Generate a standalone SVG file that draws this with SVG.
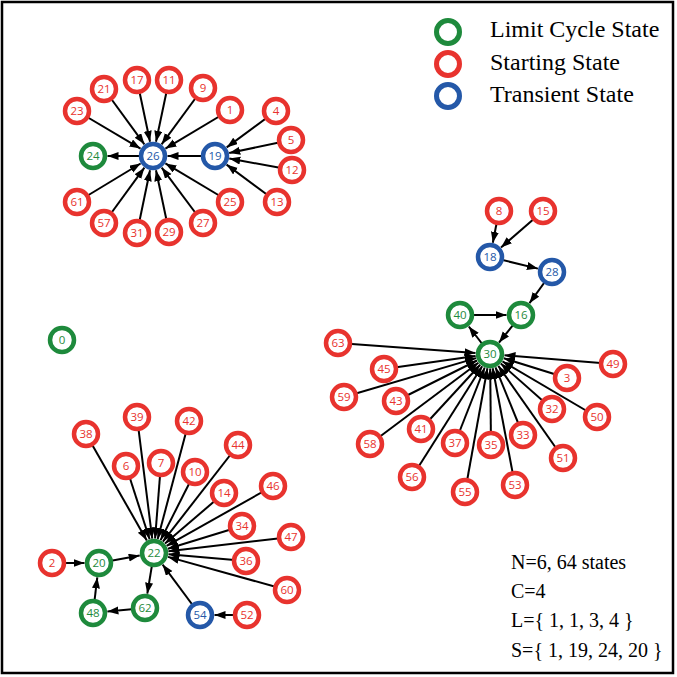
<svg xmlns="http://www.w3.org/2000/svg" width="677" height="677" viewBox="0 0 677 677">
<style>
.n circle{fill:#fff;stroke-width:4.5}
.n text{font-family:"Open Sans","Noto Sans",sans-serif;font-size:11.5px;text-anchor:middle}
.r circle{stroke:#e8332e}.r text{fill:#e8332e}
.g circle{stroke:#1e8a3c}.g text{fill:#1e8a3c}
.b circle{stroke:#2458a8}.b text{fill:#2458a8}
#edges line{stroke:#000;stroke-width:2;marker-end:url(#ah)}
.t{font-family:"Liberation Serif","Times New Roman",serif;fill:#000}
</style>
<defs>
<marker id="ah" markerUnits="userSpaceOnUse" markerWidth="12" markerHeight="9" refX="11" refY="4" orient="auto">
<path d="M0,0 L11,4 L0,8 z" fill="#000"/>
</marker>
</defs>
<rect x="2" y="2" width="671" height="671" fill="#fff" stroke="#000" stroke-width="2.5"/>
<g id="edges">
<line x1="77" y1="111" x2="140.5" y2="148.6"/>
<line x1="104" y1="89" x2="144.4" y2="144.3"/>
<line x1="137" y1="80" x2="150" y2="141.8"/>
<line x1="169" y1="80" x2="156" y2="141.8"/>
<line x1="203" y1="88" x2="161.6" y2="144.3"/>
<line x1="230" y1="110" x2="165.4" y2="148.6"/>
<line x1="77" y1="202" x2="140.6" y2="163.5"/>
<line x1="104" y1="223" x2="144.4" y2="167.7"/>
<line x1="137" y1="233" x2="150" y2="170.2"/>
<line x1="169" y1="232" x2="156" y2="170.2"/>
<line x1="203" y1="223" x2="161.7" y2="167.6"/>
<line x1="230" y1="202" x2="165.4" y2="163.4"/>
<line x1="215" y1="156" x2="167.5" y2="156"/>
<line x1="153" y1="156" x2="107.5" y2="156"/>
<line x1="276" y1="111" x2="226.7" y2="147.4"/>
<line x1="291" y1="140" x2="229.2" y2="153"/>
<line x1="292" y1="170" x2="229.3" y2="158.6"/>
<line x1="277" y1="202" x2="226.6" y2="164.6"/>
<line x1="499" y1="211" x2="492.8" y2="242.8"/>
<line x1="543" y1="211" x2="501" y2="247.5"/>
<line x1="490" y1="257" x2="537.9" y2="268.6"/>
<line x1="552" y1="272" x2="529.5" y2="303.2"/>
<line x1="460" y1="315" x2="506.5" y2="315"/>
<line x1="490" y1="354" x2="468.8" y2="326.5"/>
<line x1="521" y1="315" x2="499" y2="342.6"/>
<line x1="338" y1="343" x2="475.5" y2="353"/>
<line x1="384" y1="369" x2="475.6" y2="356"/>
<line x1="344" y1="397" x2="476.1" y2="358.1"/>
<line x1="396" y1="401" x2="477" y2="360.5"/>
<line x1="421" y1="429" x2="480.2" y2="364.7"/>
<line x1="370" y1="444" x2="478.4" y2="362.7"/>
<line x1="412" y1="477" x2="482.2" y2="366.3"/>
<line x1="455" y1="443" x2="484.7" y2="367.5"/>
<line x1="465" y1="492" x2="487.4" y2="368.3"/>
<line x1="491" y1="445" x2="490.2" y2="368.5"/>
<line x1="515" y1="485" x2="492.7" y2="368.2"/>
<line x1="523" y1="435" x2="495.5" y2="367.4"/>
<line x1="563" y1="458" x2="498.3" y2="365.9"/>
<line x1="552" y1="409" x2="500.8" y2="363.6"/>
<line x1="597" y1="417" x2="502.5" y2="361.4"/>
<line x1="567" y1="378" x2="503.8" y2="358.3"/>
<line x1="613" y1="364" x2="504.5" y2="355.2"/>
<line x1="52" y1="563" x2="84.5" y2="563"/>
<line x1="99" y1="563" x2="139.7" y2="555.6"/>
<line x1="154" y1="553" x2="147.3" y2="593.7"/>
<line x1="145" y1="608" x2="107.4" y2="611.6"/>
<line x1="93" y1="613" x2="97.3" y2="577.4"/>
<line x1="247" y1="615" x2="214.5" y2="615"/>
<line x1="200" y1="615" x2="162.6" y2="564.6"/>
<line x1="86" y1="434" x2="146.8" y2="540.4"/>
<line x1="137" y1="417" x2="152.2" y2="538.6"/>
<line x1="189" y1="421" x2="157.7" y2="539"/>
<line x1="238" y1="445" x2="162.9" y2="541.6"/>
<line x1="126" y1="466" x2="149.6" y2="539.2"/>
<line x1="161" y1="463" x2="155.1" y2="538.5"/>
<line x1="195" y1="472" x2="160.6" y2="540.1"/>
<line x1="224" y1="493" x2="165" y2="543.6"/>
<line x1="273" y1="486" x2="166.6" y2="545.9"/>
<line x1="242" y1="526" x2="167.9" y2="548.7"/>
<line x1="291" y1="537" x2="168.4" y2="551.3"/>
<line x1="246" y1="561" x2="168.5" y2="554.3"/>
<line x1="287" y1="590" x2="168" y2="556.9"/>
</g>
<g id="nodes">
<g id="n26" class="n b"><circle cx="153" cy="156" r="12"/><text x="153" y="160">26</text></g>
<g id="n24" class="n g"><circle cx="93" cy="156" r="12"/><text x="93" y="160">24</text></g>
<g id="n19" class="n b"><circle cx="215" cy="156" r="12"/><text x="215" y="160">19</text></g>
<g id="n23" class="n r"><circle cx="77" cy="111" r="12"/><text x="77" y="115">23</text></g>
<g id="n21" class="n r"><circle cx="104" cy="89" r="12"/><text x="104" y="93">21</text></g>
<g id="n17" class="n r"><circle cx="137" cy="80" r="12"/><text x="137" y="84">17</text></g>
<g id="n11" class="n r"><circle cx="169" cy="80" r="12"/><text x="169" y="84">11</text></g>
<g id="n9" class="n r"><circle cx="203" cy="88" r="12"/><text x="203" y="92">9</text></g>
<g id="n1" class="n r"><circle cx="230" cy="110" r="12"/><text x="230" y="114">1</text></g>
<g id="n4" class="n r"><circle cx="276" cy="111" r="12"/><text x="276" y="115">4</text></g>
<g id="n5" class="n r"><circle cx="291" cy="140" r="12"/><text x="291" y="144">5</text></g>
<g id="n12" class="n r"><circle cx="292" cy="170" r="12"/><text x="292" y="174">12</text></g>
<g id="n13" class="n r"><circle cx="277" cy="202" r="12"/><text x="277" y="206">13</text></g>
<g id="n61" class="n r"><circle cx="77" cy="202" r="12"/><text x="77" y="206">61</text></g>
<g id="n57" class="n r"><circle cx="104" cy="223" r="12"/><text x="104" y="227">57</text></g>
<g id="n31" class="n r"><circle cx="137" cy="233" r="12"/><text x="137" y="237">31</text></g>
<g id="n29" class="n r"><circle cx="169" cy="232" r="12"/><text x="169" y="236">29</text></g>
<g id="n27" class="n r"><circle cx="203" cy="223" r="12"/><text x="203" y="227">27</text></g>
<g id="n25" class="n r"><circle cx="230" cy="202" r="12"/><text x="230" y="206">25</text></g>
<g id="n0" class="n g"><circle cx="62" cy="340" r="12"/><text x="62" y="344">0</text></g>
<g id="n8" class="n r"><circle cx="499" cy="211" r="12"/><text x="499" y="215">8</text></g>
<g id="n15" class="n r"><circle cx="543" cy="211" r="12"/><text x="543" y="215">15</text></g>
<g id="n18" class="n b"><circle cx="490" cy="257" r="12"/><text x="490" y="261">18</text></g>
<g id="n28" class="n b"><circle cx="552" cy="272" r="12"/><text x="552" y="276">28</text></g>
<g id="n40" class="n g"><circle cx="460" cy="315" r="12"/><text x="460" y="319">40</text></g>
<g id="n16" class="n g"><circle cx="521" cy="315" r="12"/><text x="521" y="319">16</text></g>
<g id="n30" class="n g"><circle cx="490" cy="354" r="12"/><text x="490" y="358">30</text></g>
<g id="n63" class="n r"><circle cx="338" cy="343" r="12"/><text x="338" y="347">63</text></g>
<g id="n45" class="n r"><circle cx="384" cy="369" r="12"/><text x="384" y="373">45</text></g>
<g id="n59" class="n r"><circle cx="344" cy="397" r="12"/><text x="344" y="401">59</text></g>
<g id="n43" class="n r"><circle cx="396" cy="401" r="12"/><text x="396" y="405">43</text></g>
<g id="n41" class="n r"><circle cx="421" cy="429" r="12"/><text x="421" y="433">41</text></g>
<g id="n58" class="n r"><circle cx="370" cy="444" r="12"/><text x="370" y="448">58</text></g>
<g id="n37" class="n r"><circle cx="455" cy="443" r="12"/><text x="455" y="447">37</text></g>
<g id="n35" class="n r"><circle cx="491" cy="445" r="12"/><text x="491" y="449">35</text></g>
<g id="n33" class="n r"><circle cx="523" cy="435" r="12"/><text x="523" y="439">33</text></g>
<g id="n32" class="n r"><circle cx="552" cy="409" r="12"/><text x="552" y="413">32</text></g>
<g id="n3" class="n r"><circle cx="567" cy="378" r="12"/><text x="567" y="382">3</text></g>
<g id="n49" class="n r"><circle cx="613" cy="364" r="12"/><text x="613" y="368">49</text></g>
<g id="n50" class="n r"><circle cx="597" cy="417" r="12"/><text x="597" y="421">50</text></g>
<g id="n51" class="n r"><circle cx="563" cy="458" r="12"/><text x="563" y="462">51</text></g>
<g id="n56" class="n r"><circle cx="412" cy="477" r="12"/><text x="412" y="481">56</text></g>
<g id="n55" class="n r"><circle cx="465" cy="492" r="12"/><text x="465" y="496">55</text></g>
<g id="n53" class="n r"><circle cx="515" cy="485" r="12"/><text x="515" y="489">53</text></g>
<g id="n22" class="n g"><circle cx="154" cy="553" r="12"/><text x="154" y="557">22</text></g>
<g id="n20" class="n g"><circle cx="99" cy="563" r="12"/><text x="99" y="567">20</text></g>
<g id="n2" class="n r"><circle cx="52" cy="563" r="12"/><text x="52" y="567">2</text></g>
<g id="n48" class="n g"><circle cx="93" cy="613" r="12"/><text x="93" y="617">48</text></g>
<g id="n62" class="n g"><circle cx="145" cy="608" r="12"/><text x="145" y="612">62</text></g>
<g id="n54" class="n b"><circle cx="200" cy="615" r="12"/><text x="200" y="619">54</text></g>
<g id="n52" class="n r"><circle cx="247" cy="615" r="12"/><text x="247" y="619">52</text></g>
<g id="n38" class="n r"><circle cx="86" cy="434" r="12"/><text x="86" y="438">38</text></g>
<g id="n39" class="n r"><circle cx="137" cy="417" r="12"/><text x="137" y="421">39</text></g>
<g id="n42" class="n r"><circle cx="189" cy="421" r="12"/><text x="189" y="425">42</text></g>
<g id="n44" class="n r"><circle cx="238" cy="445" r="12"/><text x="238" y="449">44</text></g>
<g id="n6" class="n r"><circle cx="126" cy="466" r="12"/><text x="126" y="470">6</text></g>
<g id="n7" class="n r"><circle cx="161" cy="463" r="12"/><text x="161" y="467">7</text></g>
<g id="n10" class="n r"><circle cx="195" cy="472" r="12"/><text x="195" y="476">10</text></g>
<g id="n14" class="n r"><circle cx="224" cy="493" r="12"/><text x="224" y="497">14</text></g>
<g id="n46" class="n r"><circle cx="273" cy="486" r="12"/><text x="273" y="490">46</text></g>
<g id="n34" class="n r"><circle cx="242" cy="526" r="12"/><text x="242" y="530">34</text></g>
<g id="n47" class="n r"><circle cx="291" cy="537" r="12"/><text x="291" y="541">47</text></g>
<g id="n36" class="n r"><circle cx="246" cy="561" r="12"/><text x="246" y="565">36</text></g>
<g id="n60" class="n r"><circle cx="287" cy="590" r="12"/><text x="287" y="594">60</text></g>
</g>
<g id="legend">
<circle cx="448" cy="32" r="11.5" fill="none" stroke="#1e8a3c" stroke-width="5"/>
<circle cx="448" cy="64" r="11.5" fill="none" stroke="#e8332e" stroke-width="5"/>
<circle cx="448" cy="96" r="11.5" fill="none" stroke="#2458a8" stroke-width="5"/>
<text class="t" x="490" y="37" font-size="24">Limit Cycle State</text>
<text class="t" x="490" y="69.5" font-size="24">Starting State</text>
<text class="t" x="490" y="101.5" font-size="24">Transient State</text>
</g>
<g id="info" font-size="20">
<text class="t" x="511" y="569">N=6, 64 states</text>
<text class="t" x="511" y="598">C=4</text>
<text class="t" x="511" y="627">L={ 1, 1, 3, 4 }</text>
<text class="t" x="511" y="656.5">S={ 1, 19, 24, 20 }</text>
</g>
</svg>
